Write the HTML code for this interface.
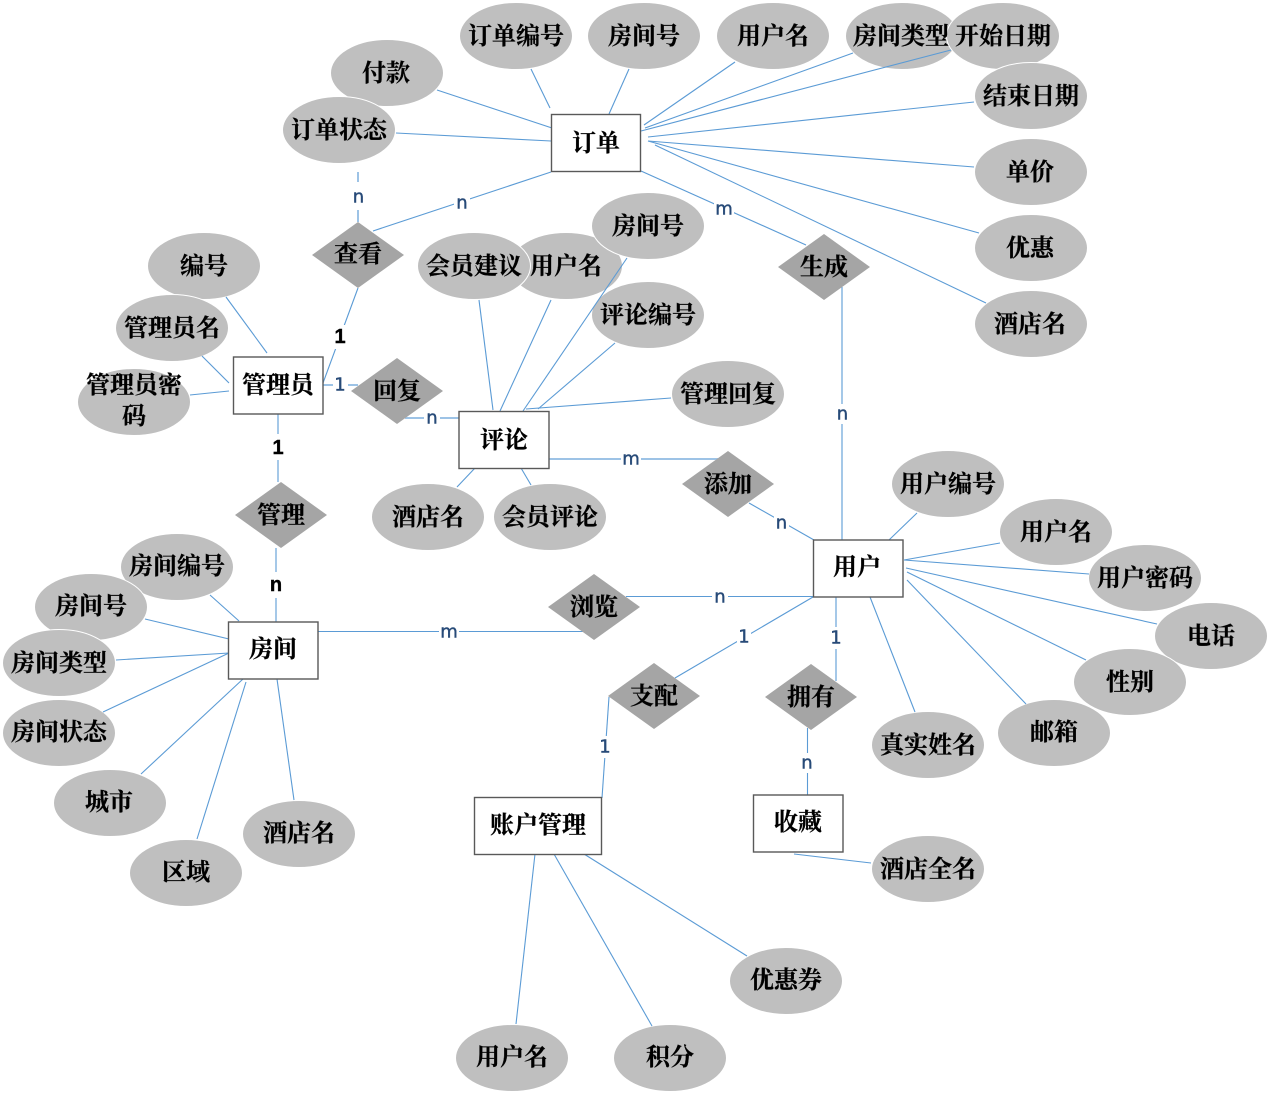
<!DOCTYPE html>
<html><head><meta charset="utf-8"><style>
html,body{margin:0;padding:0;background:#fff}
svg{display:block}
.t{font-family:"Liberation Serif","Noto Serif CJK SC",serif;font-size:24px;font-weight:700;fill:#000;stroke:#000;stroke-width:.25;text-anchor:middle;dominant-baseline:central}
.l{font-family:"DejaVu Sans","Liberation Sans",sans-serif;font-size:18px;font-weight:400;fill:#274a78;stroke:#274a78;stroke-width:.4;text-anchor:middle;dominant-baseline:central}
.b{fill:#000;stroke:#000;font-weight:700;font-family:"Liberation Sans",sans-serif;font-size:20px}
ellipse{fill:#bfbfbf;stroke:#fff;stroke-width:1;rx:56.5px;ry:33.5px}
polygon{fill:#a5a5a5}
rect{fill:#fff;stroke:#595959;stroke-width:1.4}
line{stroke:#5b9bd5;stroke-width:1.1}
.h{stroke:#9dc3e6;stroke-width:2}
</style></head><body>
<svg width="1269" height="1094" viewBox="0 0 1269 1094" xmlns="http://www.w3.org/2000/svg">
<g>
<ellipse cx="516" cy="36" rx="56.5" ry="33.5"/><ellipse cx="644" cy="36" rx="56.5" ry="33.5"/><ellipse cx="773" cy="36" rx="56.5" ry="33.5"/><ellipse cx="902" cy="36" rx="56.5" ry="33.5"/><ellipse cx="1003" cy="36" rx="56.5" ry="33.5"/><ellipse cx="1031" cy="96" rx="56.5" ry="33.5"/><ellipse cx="1031" cy="172" rx="56.5" ry="33.5"/><ellipse cx="1031" cy="248" rx="56.5" ry="33.5"/><ellipse cx="1031" cy="324" rx="56.5" ry="33.5"/>
<ellipse cx="387" cy="73" rx="56.5" ry="33.5"/><ellipse cx="339" cy="130" rx="56.5" ry="33.5"/>
<ellipse cx="204" cy="266" rx="56.5" ry="33.5"/><ellipse cx="172" cy="328" rx="56.5" ry="33.5"/><ellipse cx="134" cy="402" rx="56.5" ry="33.5"/>
<ellipse cx="566" cy="266" rx="56.5" ry="33.5"/><ellipse cx="474" cy="266" rx="56.5" ry="33.5"/><ellipse cx="648" cy="226" rx="56.5" ry="33.5"/><ellipse cx="648" cy="315" rx="56.5" ry="33.5"/><ellipse cx="728" cy="394" rx="56.5" ry="33.5"/><ellipse cx="428" cy="517" rx="56.5" ry="33.5"/><ellipse cx="550" cy="517" rx="56.5" ry="33.5"/>
<ellipse cx="948" cy="484" rx="56.5" ry="33.5"/><ellipse cx="1056" cy="532" rx="56.5" ry="33.5"/><ellipse cx="1145" cy="578" rx="56.5" ry="33.5"/><ellipse cx="1211" cy="636" rx="56.5" ry="33.5"/><ellipse cx="1130" cy="682" rx="56.5" ry="33.5"/><ellipse cx="1054" cy="733" rx="56.5" ry="33.5"/><ellipse cx="928" cy="745" rx="56.5" ry="33.5"/><ellipse cx="928" cy="869" rx="56.5" ry="33.5"/>
<ellipse cx="177" cy="567" rx="56.5" ry="33.5"/><ellipse cx="91" cy="607" rx="56.5" ry="33.5"/><ellipse cx="59" cy="663" rx="56.5" ry="33.5"/><ellipse cx="59" cy="733" rx="56.5" ry="33.5"/><ellipse cx="110" cy="803" rx="56.5" ry="33.5"/><ellipse cx="186" cy="873" rx="56.5" ry="33.5"/><ellipse cx="299" cy="834" rx="56.5" ry="33.5"/>
<ellipse cx="786" cy="981" rx="56.5" ry="33.5"/><ellipse cx="670" cy="1058" rx="56.5" ry="33.5"/><ellipse cx="512" cy="1058" rx="56.5" ry="33.5"/>
</g>
<g>
<line x1="437" y1="90" x2="552" y2="128"/><line x1="531" y1="69" x2="550" y2="108"/><line x1="629" y1="69" x2="609" y2="114"/><line x1="396" y1="133" x2="551" y2="141"/>
<line x1="551" y1="172" x2="373" y2="231"/><line x1="358" y1="172" x2="358" y2="182" class="h"/><line x1="358" y1="210" x2="358" y2="222" class="h"/>
<line x1="358" y1="288" x2="323" y2="383"/>
<line x1="735" y1="62" x2="644" y2="125"/><line x1="853" y1="53" x2="645" y2="128"/><line x1="951" y1="50" x2="641" y2="131"/><line x1="974" y1="102" x2="648" y2="137"/><line x1="974" y1="167" x2="648" y2="141"/><line x1="979" y1="233" x2="648" y2="141"/><line x1="986" y1="303" x2="655" y2="145"/>
<line x1="641" y1="171" x2="806" y2="245"/><line x1="842" y1="287" x2="842" y2="540"/>
<line x1="479" y1="300" x2="493" y2="410"/><line x1="551" y1="300" x2="500" y2="411"/><line x1="627" y1="258" x2="523" y2="411"/><line x1="615" y1="343" x2="538" y2="409"/><line x1="671" y1="398" x2="526" y2="409"/><line x1="475" y1="468" x2="457" y2="487"/><line x1="521" y1="468" x2="531" y2="485"/>
<line x1="549" y1="459" x2="718" y2="459" class="h"/><line x1="749" y1="503" x2="814" y2="540"/>
<line x1="917" y1="513" x2="889" y2="540"/><line x1="1000" y1="543" x2="904" y2="560"/><line x1="1089" y1="574" x2="904" y2="560"/><line x1="1157" y1="624" x2="906" y2="568"/><line x1="1086" y1="660" x2="907" y2="572"/><line x1="1026" y1="704" x2="907" y2="580"/><line x1="915" y1="712" x2="870" y2="597"/><line x1="871" y1="863" x2="794" y2="854"/>
<line x1="626" y1="596.5" x2="813" y2="596.5"/><line x1="813" y1="597" x2="675" y2="678"/><line x1="836" y1="597" x2="836" y2="681"/><line x1="807.5" y1="728" x2="807.5" y2="795"/><line x1="609" y1="697" x2="602" y2="798"/>
<line x1="210" y1="595" x2="239" y2="621"/><line x1="145" y1="619" x2="229" y2="639"/><line x1="116" y1="660" x2="229" y2="653"/><line x1="103" y1="712" x2="229" y2="653"/><line x1="141" y1="774" x2="243" y2="679"/><line x1="197" y1="839" x2="246" y2="682"/><line x1="294" y1="800" x2="277" y2="679"/>
<line x1="276" y1="548" x2="276" y2="622"/><line x1="318" y1="631.5" x2="584" y2="631.5"/>
<line x1="516" y1="1024" x2="535" y2="854"/><line x1="652" y1="1026" x2="554" y2="854"/><line x1="747" y1="956" x2="584" y2="854"/>
<line x1="226" y1="297" x2="267" y2="353"/><line x1="202" y1="356" x2="229" y2="383"/><line x1="190" y1="395" x2="229" y2="391"/>
<line x1="323" y1="385" x2="358" y2="385" class="h"/><line x1="405" y1="418" x2="459" y2="418" class="h"/><line x1="278" y1="414" x2="278" y2="482"/>
</g>
<g>
<polygon points="358,222 404,255 358,288 312,255"/><polygon points="824,234 870,267 824,300 778,267"/><polygon points="397,358 443,391 397,424 351,391"/><polygon points="728,451 774,484 728,517 682,484"/><polygon points="281,482 327,515 281,548 235,515"/><polygon points="594,574 640,607 594,640 548,607"/><polygon points="654,663 700,696 654,729 608,696"/><polygon points="811,664 857,697 811,730 765,697"/>
</g>
<g>
<rect x="551.5" y="114.5" width="89" height="57"/><rect x="233.5" y="357" width="89.5" height="57"/><rect x="459" y="411.5" width="90" height="57"/><rect x="813.5" y="540" width="89.5" height="57"/><rect x="228.5" y="622" width="89.5" height="57"/><rect x="474.5" y="797.5" width="127" height="57"/><rect x="753.5" y="795" width="89.5" height="57"/>
</g>
<g class="labels">
<rect x="350" y="184" width="16" height="24" style="fill:#fff;stroke:none"/><rect x="454" y="193" width="16" height="20" style="fill:#fff;stroke:none"/><rect x="714" y="199" width="20" height="20" style="fill:#fff;stroke:none"/><rect x="833" y="404" width="18" height="20" style="fill:#fff;stroke:none"/><rect x="332" y="325" width="16" height="24" style="fill:#fff;stroke:none"/><rect x="333" y="375" width="15" height="20" style="fill:#fff;stroke:none"/><rect x="424" y="409" width="16" height="18" style="fill:#fff;stroke:none"/><rect x="270" y="434" width="16" height="26" style="fill:#fff;stroke:none"/><rect x="621" y="450" width="20" height="18" style="fill:#fff;stroke:none"/><rect x="774" y="514" width="15" height="18" style="fill:#fff;stroke:none"/><rect x="268" y="572" width="16" height="26" style="fill:#fff;stroke:none"/><rect x="712" y="588" width="16" height="18" style="fill:#fff;stroke:none"/><rect x="439" y="623" width="20" height="18" style="fill:#fff;stroke:none"/><rect x="737" y="626" width="14" height="22" style="fill:#fff;stroke:none"/><rect x="829" y="627" width="14" height="22" style="fill:#fff;stroke:none"/><rect x="598" y="736" width="14" height="22" style="fill:#fff;stroke:none"/><rect x="799" y="753" width="16" height="20" style="fill:#fff;stroke:none"/>
<text class="l" x="358.5" y="197">n</text><text class="l" x="462" y="203">n</text><text class="l" x="724" y="209">m</text><text class="l" x="842.5" y="414">n</text>
<text class="l b" x="340" y="337">1</text><text class="l" x="340" y="385">1</text><text class="l" x="432" y="418">n</text><text class="l b" x="278" y="448">1</text>
<text class="l" x="631" y="459">m</text><text class="l" x="781.5" y="523">n</text><text class="l b" x="276" y="585">n</text><text class="l" x="720" y="597">n</text><text class="l" x="449" y="632">m</text>
<text class="l" x="744" y="637">1</text><text class="l" x="836" y="638">1</text><text class="l" x="605" y="747">1</text><text class="l" x="807" y="763">n</text>
</g>
<g transform="translate(0,2)">
<text class="t" x="516" y="35">订单编号</text><text class="t" x="644" y="35">房间号</text><text class="t" x="773" y="35">用户名</text><text class="t" x="901" y="35">房间类型</text><text class="t" x="1003" y="35">开始日期</text><text class="t" x="1031" y="95">结束日期</text><text class="t" x="1030" y="171">单价</text><text class="t" x="1030" y="247">优惠</text><text class="t" x="1030" y="323">酒店名</text>
<text class="t" x="386" y="72">付款</text><text class="t" x="339" y="129">订单状态</text><text class="t" x="596" y="142">订单</text>
<text class="t" x="358" y="253">查看</text><text class="t" x="824" y="266">生成</text><text class="t" x="397" y="390">回复</text><text class="t" x="728" y="483">添加</text><text class="t" x="281" y="514">管理</text><text class="t" x="594" y="606">浏览</text><text class="t" x="654" y="695">支配</text><text class="t" x="811" y="696">拥有</text>
<text class="t" x="204" y="265">编号</text><text class="t" x="172" y="327">管理员名</text><text class="t" x="134" y="384">管理员密</text><text class="t" x="134" y="415">码</text><text class="t" x="278" y="384">管理员</text>
<text class="t" x="474" y="265">会员建议</text><text class="t" x="566" y="265">用户名</text><text class="t" x="648" y="225">房间号</text><text class="t" x="648" y="314">评论编号</text><text class="t" x="728" y="393">管理回复</text><text class="t" x="504" y="439">评论</text><text class="t" x="428" y="516">酒店名</text><text class="t" x="550" y="516">会员评论</text>
<text class="t" x="948" y="483">用户编号</text><text class="t" x="1056" y="531">用户名</text><text class="t" x="1145" y="577">用户密码</text><text class="t" x="1211" y="635">电话</text><text class="t" x="1130" y="681">性别</text><text class="t" x="1054" y="731">邮箱</text><text class="t" x="928" y="744">真实姓名</text><text class="t" x="928" y="868">酒店全名</text><text class="t" x="857" y="566">用户</text><text class="t" x="798" y="821">收藏</text>
<text class="t" x="177" y="565">房间编号</text><text class="t" x="91" y="605">房间号</text><text class="t" x="59" y="662">房间类型</text><text class="t" x="59" y="731">房间状态</text><text class="t" x="109" y="801">城市</text><text class="t" x="186" y="871">区域</text><text class="t" x="299" y="832">酒店名</text><text class="t" x="273" y="648">房间</text>
<text class="t" x="538" y="824">账户管理</text><text class="t" x="786" y="979">优惠券</text><text class="t" x="670" y="1056">积分</text><text class="t" x="512" y="1056">用户名</text>
</g>
</svg>
</body></html>
